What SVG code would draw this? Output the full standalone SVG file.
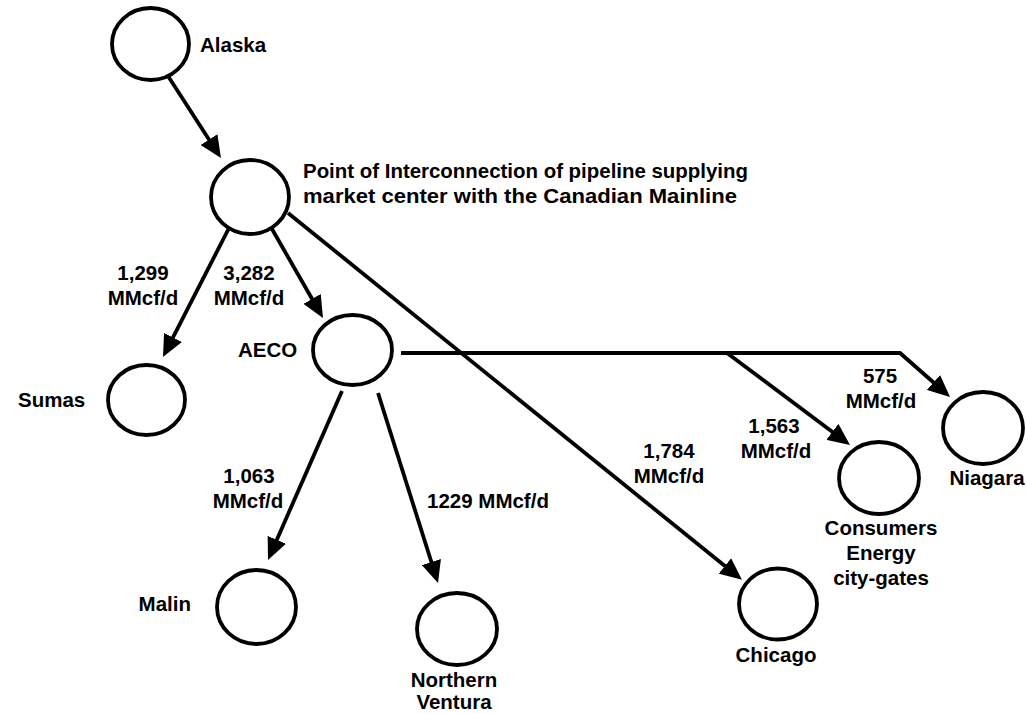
<svg xmlns="http://www.w3.org/2000/svg" width="1026" height="714" viewBox="0 0 1026 714">
<defs>
<marker id="ah" markerUnits="userSpaceOnUse" viewBox="0 0 22 20" refX="16" refY="10" markerWidth="22" markerHeight="20" orient="auto">
<path d="M0,0 L22,10 L0,20 z" fill="#000"/>
</marker>
<style>
.n{fill:#fff;stroke:#000;stroke-width:3.8}
.c{fill:none;stroke:#000;stroke-width:3.8;marker-end:url(#ah)}
text{font-family:"Liberation Sans",Arial,Helvetica,sans-serif;font-weight:bold;font-size:20.5px;fill:#000}
.m{text-anchor:middle}
</style>
</defs>
<rect width="1026" height="714" fill="#fff"/>
<g id="connectors">
<line class="c" x1="168" y1="76" x2="217.7" y2="153"/>
<line class="c" x1="229" y1="228" x2="165.7" y2="351.7"/>
<line class="c" x1="272" y1="229" x2="320" y2="312.8"/>
<line class="c" x1="288" y1="213" x2="737.3" y2="576"/>
<line class="c" x1="342" y1="391" x2="270.4" y2="554.5"/>
<line class="c" x1="378" y1="393" x2="436.2" y2="577.3"/>
<polyline class="c" points="401,353 900,353 945.5,393"/>
<line class="c" x1="727" y1="353" x2="845.2" y2="441.4"/>
</g>
<g id="labels">
<text class="m" x="143" y="280">1,299</text>
<text class="m" x="143" y="305">MMcf/d</text>
<text class="m" x="249" y="280">3,282</text>
<text class="m" x="249" y="305">MMcf/d</text>
<text class="m" x="249" y="483">1,063</text>
<text class="m" x="248" y="508">MMcf/d</text>
<text x="427" y="508">1229 MMcf/d</text>
<text class="m" x="669" y="458">1,784</text>
<text class="m" x="669" y="483">MMcf/d</text>
<text class="m" x="774" y="433">1,563</text>
<text class="m" x="776" y="458">MMcf/d</text>
<text class="m" x="880" y="383">575</text>
<text class="m" x="881" y="408">MMcf/d</text>
</g>
<g id="alaska">
<ellipse class="n" cx="150.5" cy="44" rx="38.5" ry="36"/>
<text x="200" y="52">Alaska</text>
</g>
<g id="interconnection">
<ellipse class="n" cx="250" cy="197" rx="39" ry="37"/>
<text x="303" y="178" textLength="445" lengthAdjust="spacingAndGlyphs">Point of Interconnection of pipeline supplying</text>
<text x="303" y="203" textLength="434" lengthAdjust="spacingAndGlyphs">market center with the Canadian Mainline</text>
</g>
<g id="sumas">
<ellipse class="n" cx="146.5" cy="400" rx="38.5" ry="35"/>
<text x="18" y="407">Sumas</text>
</g>
<g id="aeco">
<ellipse class="n" cx="352.5" cy="350" rx="39.5" ry="35"/>
<text x="238" y="357">AECO</text>
</g>
<g id="malin">
<ellipse class="n" cx="256.5" cy="607" rx="39.5" ry="37"/>
<text x="191" y="611" text-anchor="end">Malin</text>
</g>
<g id="northern-ventura">
<ellipse class="n" cx="457" cy="629" rx="40" ry="36"/>
<text class="m" x="454" y="687">Northern</text>
<text class="m" x="454" y="709">Ventura</text>
</g>
<g id="chicago">
<ellipse class="n" cx="778" cy="604" rx="39" ry="35.5"/>
<text class="m" x="776" y="662">Chicago</text>
</g>
<g id="consumers">
<ellipse class="n" cx="879" cy="478" rx="40" ry="36"/>
<text class="m" x="881" y="535">Consumers</text>
<text class="m" x="881" y="560">Energy</text>
<text class="m" x="881" y="585">city-gates</text>
</g>
<g id="niagara">
<ellipse class="n" cx="983" cy="428" rx="40" ry="36"/>
<text class="m" x="987" y="485">Niagara</text>
</g>
</svg>
